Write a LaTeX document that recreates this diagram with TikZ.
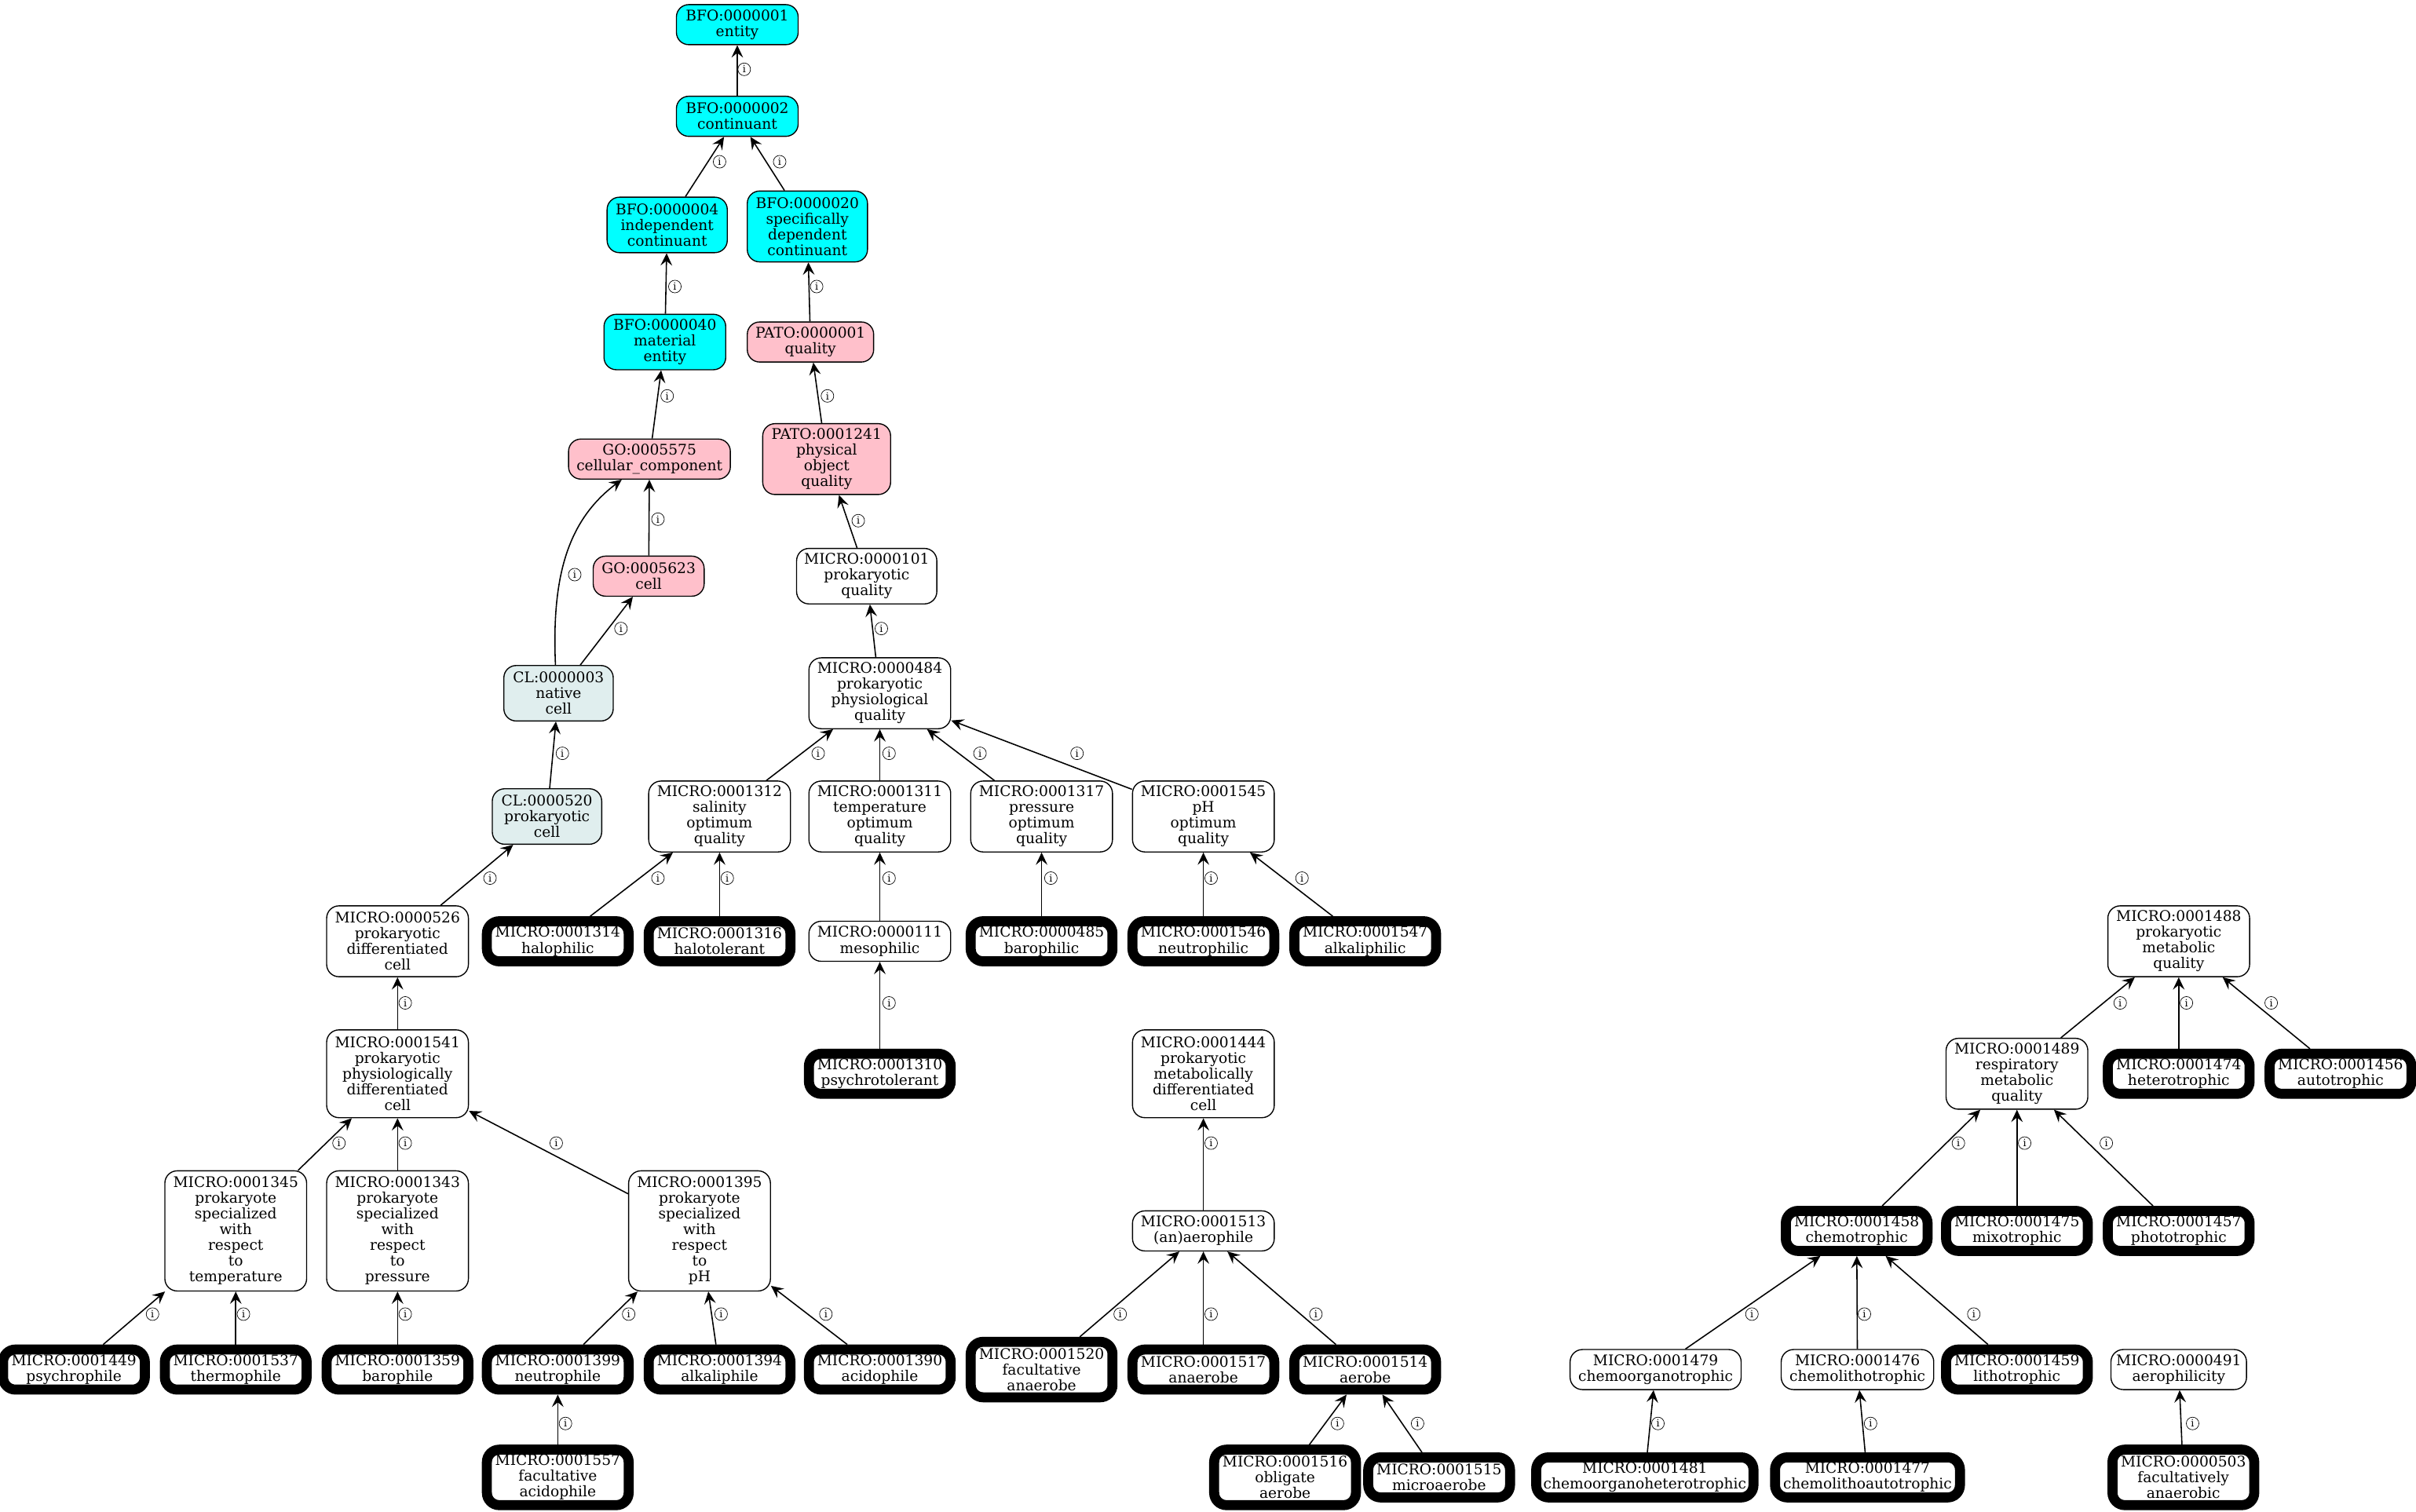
\documentclass[tikz,border=0pt]{standalone}
\usepackage{fontspec}
\setmainfont{DejaVu Serif}
\usetikzlibrary{arrows.meta}
\definecolor{cyanfill}{HTML}{00FFFF}
\definecolor{pinkfill}{HTML}{FFC0CB}
\definecolor{cellfill}{HTML}{E0EEEE}
\newcommand\nodefont{\fontsize{9.5}{10.2}\selectfont}
\newcommand\tagfont{\fontsize{6.5}{6.5}\selectfont}
\tikzset{
  term/.style={draw=black, line width=0.7pt, rounded corners=8pt, align=center,
    inner sep=0pt, font=\nodefont, fill=white, minimum width=92pt, minimum height=26pt},
  heavy/.style={term, line width=6.5pt},
  cy/.style={term, fill=cyanfill},
  pk/.style={term, fill=pinkfill},
  cl/.style={term, fill=cellfill},
  h3/.style={minimum height=36pt},
  h4/.style={minimum height=46pt},
  h5/.style={minimum height=57pt},
  h7/.style={minimum height=78pt},
  wd/.style={minimum width=#1},
  isa/.style={draw=black, line width=0.8pt, -{Stealth[length=8pt,width=7.5pt,inset=3pt]}},
  tag/.style={circle, draw=black, line width=0.35pt, minimum size=8.2pt, inner sep=0pt, font=\tagfont}
}
\begin{document}
\begin{tikzpicture}[x=1pt,y=-1pt]
\useasboundingbox (0,0) rectangle (1568,981);
% upper part of the hierarchy
\node[cy, wd=79pt] (n1) at (478.5,16) {BFO:0000001\\entity};
\node[cy, wd=79pt] (n2) at (478.5,75.5) {BFO:0000002\\continuant};
\node[cy, wd=78pt, h3] (n3) at (433,146) {BFO:0000004\\independent\\continuant};
\node[cy, wd=78pt, h4] (n4) at (524,147) {BFO:0000020\\specifically\\dependent\\continuant};
\node[cy, wd=79pt, h3] (n5) at (431.5,222) {BFO:0000040\\material\\entity};
\node[pk, wd=82pt] (n6) at (526,222) {PATO:0000001\\quality};
\node[pk, wd=105pt] (n7) at (421.5,298) {GO:0005575\\cellular\_component};
\node[pk, wd=83pt, h4] (n8) at (536.5,298) {PATO:0001241\\physical\\object\\quality};
\node[pk, wd=72pt] (n9) at (421,374) {GO:0005623\\cell};
\node[term, wd=91pt, h3] (n10) at (562.5,374) {MICRO:0000101\\prokaryotic\\quality};
\node[cl, wd=71pt, h3] (n11) at (362.5,450) {CL:0000003\\native\\cell};
\node[term, h4] (n12) at (571,450) {MICRO:0000484\\prokaryotic\\physiological\\quality};
\node[cl, wd=71pt, h3] (n13) at (355,530) {CL:0000520\\prokaryotic\\cell};
\node[term, h4] (n14) at (467,530) {MICRO:0001312\\salinity\\optimum\\quality};
\node[term, h4] (n15) at (571,530) {MICRO:0001311\\temperature\\optimum\\quality};
\node[term, h4] (n16) at (676,530) {MICRO:0001317\\pressure\\optimum\\quality};
\node[term, h4] (n17) at (781,530) {MICRO:0001545\\pH\\optimum\\quality};
% middle rows
\node[term, h4] (n18) at (258,611) {MICRO:0000526\\prokaryotic\\differentiated\\cell};
\node[heavy] (n19) at (362,611) {MICRO:0001314\\halophilic};
\node[heavy] (n20) at (467,611) {MICRO:0001316\\halotolerant};
\node[term] (n21) at (571,611) {MICRO:0000111\\mesophilic};
\node[heavy] (n22) at (676,611) {MICRO:0000485\\barophilic};
\node[heavy] (n23) at (781,611) {MICRO:0001546\\neutrophilic};
\node[heavy] (n24) at (886,611) {MICRO:0001547\\alkaliphilic};
\node[term, h4] (n25) at (1414,611) {MICRO:0001488\\prokaryotic\\metabolic\\quality};
\node[term, h5] (n26) at (258,697) {MICRO:0001541\\prokaryotic\\physiologically\\differentiated\\cell};
\node[heavy] (n27) at (571,697) {MICRO:0001310\\psychrotolerant};
\node[term, h5] (n28) at (781,697) {MICRO:0001444\\prokaryotic\\metabolically\\differentiated\\cell};
\node[term, h4] (n29) at (1309,697) {MICRO:0001489\\respiratory\\metabolic\\quality};
\node[heavy] (n30) at (1414,697) {MICRO:0001474\\heterotrophic};
\node[heavy] (n31) at (1519,697) {MICRO:0001456\\autotrophic};
\node[term, h7] (n32) at (153,799) {MICRO:0001345\\prokaryote\\specialized\\with\\respect\\to\\temperature};
\node[term, h7] (n33) at (258,799) {MICRO:0001343\\prokaryote\\specialized\\with\\respect\\to\\pressure};
\node[term, h7] (n34) at (454,799) {MICRO:0001395\\prokaryote\\specialized\\with\\respect\\to\\pH};
\node[term] (n35) at (781,799) {MICRO:0001513\\(an)aerophile};
\node[heavy] (n36) at (1205,799) {MICRO:0001458\\chemotrophic};
\node[heavy] (n37) at (1309,799) {MICRO:0001475\\mixotrophic};
\node[heavy] (n38) at (1414,799) {MICRO:0001457\\phototrophic};
% lower rows
\node[heavy] (n39) at (48,889) {MICRO:0001449\\psychrophile};
\node[heavy] (n40) at (153,889) {MICRO:0001537\\thermophile};
\node[heavy] (n41) at (258,889) {MICRO:0001359\\barophile};
\node[heavy] (n42) at (362,889) {MICRO:0001399\\neutrophile};
\node[heavy] (n43) at (467,889) {MICRO:0001394\\alkaliphile};
\node[heavy] (n44) at (571,889) {MICRO:0001390\\acidophile};
\node[heavy, h3] (n45) at (676,889) {MICRO:0001520\\facultative\\anaerobe};
\node[heavy] (n46) at (781,889) {MICRO:0001517\\anaerobe};
\node[heavy] (n47) at (886,889) {MICRO:0001514\\aerobe};
\node[term, wd=111pt] (n48) at (1074.5,889) {MICRO:0001479\\chemoorganotrophic};
\node[term, wd=99pt] (n49) at (1205.5,889) {MICRO:0001476\\chemolithotrophic};
\node[heavy] (n50) at (1309,889) {MICRO:0001459\\lithotrophic};
\node[term, wd=88pt] (n51) at (1414,889) {MICRO:0000491\\aerophilicity};
\node[heavy, h3] (n52) at (362,959) {MICRO:0001557\\facultative\\acidophile};
\node[heavy, h3] (n53) at (834,959) {MICRO:0001516\\obligate\\aerobe};
\node[heavy] (n54) at (934,959) {MICRO:0001515\\microaerobe};
\node[heavy, wd=141pt] (n55) at (1067.5,959) {MICRO:0001481\\chemoorganoheterotrophic};
\node[heavy, wd=120pt] (n56) at (1212,959) {MICRO:0001477\\chemolithoautotrophic};
\node[heavy, h3] (n57) at (1417,959) {MICRO:0000503\\facultatively\\anaerobic};
% is-a links, child to parent
\draw[isa] (n2) -- (n1) node[tag] at (483,45) {i};
\draw[isa] (n3) -- (n2) node[tag] at (467,105) {i};
\draw[isa] (n4) -- (n2) node[tag] at (506,105) {i};
\draw[isa] (n5) -- (n3) node[tag] at (438,186) {i};
\draw[isa] (n6) -- (n4) node[tag] at (530,186) {i};
\draw[isa] (n7) -- (n5) node[tag] at (433,257) {i};
\draw[isa] (n8) -- (n6) node[tag] at (537,257) {i};
\draw[isa] (n9) -- (n7) node[tag] at (427,337) {i};
\draw[isa] ([xshift=-2pt]n11.north) .. controls (358,375) and (368,338) .. ([xshift=-18pt]n7.south)
  node[tag] at (373,373) {i};
\draw[isa] (n10) -- (n8) node[tag] at (557,338) {i};
\draw[isa] (n11) -- (n9) node[tag] at (403,408) {i};
\draw[isa] (n12) -- (n10) node[tag] at (572,408) {i};
\draw[isa] (n13) -- (n11) node[tag] at (365,489) {i};
\draw[isa] (n14) -- (n12) node[tag] at (531,489) {i};
\draw[isa] (n15) -- (n12) node[tag] at (577,489) {i};
\draw[isa] (n16) -- (n12) node[tag] at (636,489) {i};
\draw[isa] (n17) -- (n12) node[tag] at (699,489) {i};
\draw[isa] (n18) -- (n13) node[tag] at (318,570) {i};
\draw[isa] (n19) -- (n14) node[tag] at (427,570) {i};
\draw[isa] (n20) -- (n14) node[tag] at (472,570) {i};
\draw[isa] (n21) -- (n15) node[tag] at (577,570) {i};
\draw[isa] (n22) -- (n16) node[tag] at (682,570) {i};
\draw[isa] (n23) -- (n17) node[tag] at (786,570) {i};
\draw[isa] (n24) -- (n17) node[tag] at (845,570) {i};
\draw[isa] (n26) -- (n18) node[tag] at (263,651) {i};
\draw[isa] (n27) -- (n21) node[tag] at (577,651) {i};
\draw[isa] (n32) -- (n26) node[tag] at (220,742) {i};
\draw[isa] (n33) -- (n26) node[tag] at (263,742) {i};
\draw[isa] (n34) -- (n26) node[tag] at (361,742) {i};
\draw[isa] (n35) -- (n28) node[tag] at (786,742) {i};
\draw[isa] (n39) -- (n32) node[tag] at (99,853) {i};
\draw[isa] (n40) -- (n32) node[tag] at (158,853) {i};
\draw[isa] (n41) -- (n33) node[tag] at (263,853) {i};
\draw[isa] (n42) -- (n34) node[tag] at (408,853) {i};
\draw[isa] (n43) -- (n34) node[tag] at (468,853) {i};
\draw[isa] (n44) -- (n34) node[tag] at (536,853) {i};
\draw[isa] (n45) -- (n35) node[tag] at (727,853) {i};
\draw[isa] (n46) -- (n35) node[tag] at (786,853) {i};
\draw[isa] (n47) -- (n35) node[tag] at (854,853) {i};
\draw[isa] (n52) -- (n42) node[tag] at (367,924) {i};
\draw[isa] (n53) -- (n47) node[tag] at (868,924) {i};
\draw[isa] (n54) -- (n47) node[tag] at (920,924) {i};
\draw[isa] (n29) -- (n25) node[tag] at (1376,651) {i};
\draw[isa] (n30) -- (n25) node[tag] at (1419,651) {i};
\draw[isa] (n31) -- (n25) node[tag] at (1474,651) {i};
\draw[isa] (n36) -- (n29) node[tag] at (1271,742) {i};
\draw[isa] (n37) -- (n29) node[tag] at (1314,742) {i};
\draw[isa] (n38) -- (n29) node[tag] at (1367,742) {i};
\draw[isa] (n48) -- (n36) node[tag] at (1137,853) {i};
\draw[isa] (n49) -- (n36) node[tag] at (1210,853) {i};
\draw[isa] (n50) -- (n36) node[tag] at (1281,853) {i};
\draw[isa] (n55) -- (n48) node[tag] at (1076,924) {i};
\draw[isa] (n56) -- (n49) node[tag] at (1214,924) {i};
\draw[isa] (n57) -- (n51) node[tag] at (1423,924) {i};
\end{tikzpicture}
\end{document}
